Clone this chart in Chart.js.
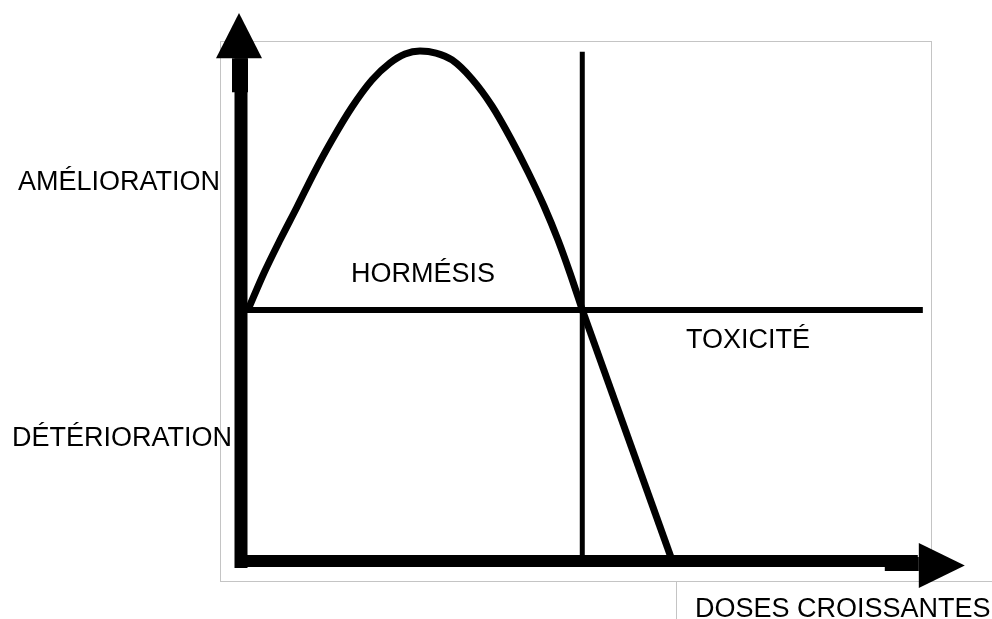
<!DOCTYPE html>
<html>
<head>
<meta charset="utf-8">
<script src="https://cdn.jsdelivr.net/npm/chart.js@4/dist/chart.umd.min.js"></script>
<style>
  body { margin: 0; background: #fff; }
</style>
</head>
<body>
<canvas id="hormese" width="992" height="619"></canvas>
<script>
// courbe dose-réponse (unités arbitraires)
var doses   = [0.97, 3.19, 5.42, 7.78, 10.14, 12.64, 15.42, 18.19, 20.69, 22.78, 24.86, 27.08, 29.31, 32.08, 34.86, 37.5, 39.86, 42.08, 44.03, 45.69, 47.4];
var reponse = [46.5, 53.33, 59.44, 65.56, 71.85, 77.96, 84.07, 89.07, 92.22, 93.89, 94.44, 94.07, 92.78, 89.26, 84.26, 78.15, 72.04, 65.74, 59.44, 53.33, 46.5];
// partie toxique (droite)
var toxDoses   = [47.4, 59.9];
var toxReponse = [46.5, 0];
// seuil
var seuilDose = 47.4;
var niveauBase = 46.5;
var finBase = 94.7;
var hautSeuil = 94.3;
// axes
var axeYHaut = 93.1;
var axeXFin = 94;

var labelsY = ["AMÉLIORATION", "DÉTÉRIORATION"];
var labelZones = ["HORMÉSIS", "TOXICITÉ"];
var titreX = "DOSES CROISSANTES";

function pts(xs, ys) {
    var out = [];
    for (let i = 0; i < xs.length; i++) {
        out.push({x: xs[i], y: ys[i]});
    }
    return out;
}

function ligne(data, w) {
    return {
        data: data,
        showLine: true,
        borderColor: "#000",
        borderWidth: w,
        pointRadius: 0,
        tension: 0,
        clip: false,
        borderCapStyle: "butt"
    };
}

var courbe = ligne(pts(doses, reponse), 7);
courbe.cubicInterpolationMode = "monotone";

var decor = {
    id: "decor",
    beforeDatasetsDraw: function(chart) {
        var c = chart.ctx;
        c.save();
        c.strokeStyle = "#c4c4c4";
        c.lineWidth = 1;
        c.strokeRect(220.5, 41.5, 711, 540);
        c.beginPath();
        c.moveTo(931.5, 581.5); c.lineTo(992, 581.5);
        c.moveTo(676.5, 581.5); c.lineTo(676.5, 619);
        c.stroke();
        c.restore();
    },
    afterDatasetsDraw: function(chart) {
        var c = chart.ctx;
        var sx = chart.scales.x, sy = chart.scales.y;
        c.save();
        c.fillStyle = "#000";
        // flèche verticale
        var ax = sx.getPixelForValue(0);
        var top = sy.getPixelForValue(axeYHaut);
        c.fillRect(ax - 9, top, 16, 34);
        c.beginPath();
        c.moveTo(ax - 25, top);
        c.lineTo(ax + 21, top);
        c.lineTo(ax - 2, 13);
        c.closePath();
        c.fill();
        // flèche horizontale
        var bx = sx.getPixelForValue(axeXFin);
        var ay = sy.getPixelForValue(0);
        c.fillRect(bx - 33, ay - 4, 34, 14);
        c.beginPath();
        c.moveTo(bx + 1, ay - 18);
        c.lineTo(bx + 1, ay + 27);
        c.lineTo(bx + 47, ay + 4.5);
        c.closePath();
        c.fill();
        // textes
        c.font = "27px 'Liberation Sans', Arial, sans-serif";
        c.textBaseline = "alphabetic";
        c.textAlign = "left";
        c.fillText(labelsY[0], 18, 190);
        c.fillText(labelsY[1], 12, 446);
        c.fillText(labelZones[0], 351, 282);
        c.fillText(labelZones[1], 686, 348);
        c.fillText(titreX, 695, 617);
        c.restore();
    }
};

var ctx = document.getElementById("hormese").getContext("2d");
var chart = new Chart(ctx, {
    type: "scatter",
    data: {
        datasets: [
            courbe,
            ligne(pts(toxDoses, toxReponse), 7),
            ligne([{x: 0, y: niveauBase}, {x: finBase, y: niveauBase}], 6),
            ligne([{x: seuilDose, y: 0}, {x: seuilDose, y: hautSeuil}], 5),
            ligne([{x: 0, y: -1.3}, {x: 0, y: axeYHaut}], 13),
            ligne([{x: -0.8, y: 0}, {x: axeXFin, y: 0}], 12)
        ]
    },
    options: {
        responsive: false,
        animation: false,
        layout: { padding: { left: 241, right: 31, top: 21, bottom: 58 } },
        plugins: { legend: { display: false }, tooltip: { enabled: false } },
        scales: {
            x: { type: "linear", min: 0, max: 100, display: false },
            y: { type: "linear", min: 0, max: 100, display: false }
        }
    },
    plugins: [decor]
});
</script>
</body>
</html>
